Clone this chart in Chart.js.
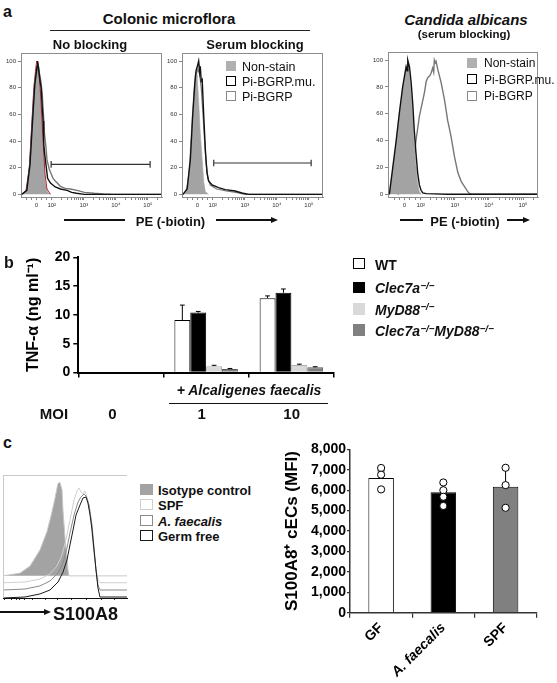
<!DOCTYPE html>
<html><head><meta charset="utf-8"><title>Figure</title>
<script src="https://cdn.jsdelivr.net/npm/chart.js@4.4.1/dist/chart.umd.min.js"></script>
<style>
html,body{margin:0;padding:0;background:#fff;}
body{width:557px;height:683px;position:relative;overflow:hidden;font-family:"Liberation Sans",Arial,Helvetica,sans-serif;color:#111;}
canvas{position:absolute;}
.t{position:absolute;white-space:nowrap;line-height:1;}
.hl{position:absolute;background:#111;}
.sw{position:absolute;box-sizing:border-box;}
.ah{position:absolute;width:0;height:0;border-style:solid;border-color:transparent;}
sup{font-size:70%;line-height:0;vertical-align:0;position:relative;top:-0.45em;}
</style></head><body>
<canvas id="cA1" width="170" height="172" style="left:0;top:46px"></canvas>
<canvas id="cA2" width="170" height="172" style="left:161px;top:46px"></canvas>
<canvas id="cA3" width="180" height="173" style="left:367px;top:45px"></canvas>
<canvas id="cB" width="345" height="150" style="left:0;top:240px"></canvas>
<canvas id="cH" width="135" height="140" style="left:0;top:470px"></canvas>
<canvas id="cC" width="297" height="243" style="left:260px;top:440px"></canvas>
<script>
// ---------- Panel a: flow histograms (x in display units of the biexponential PE axis) ----------
const histTickPos = [0, 0.48, 1.48, 2.48, 3.48];
const histTickLabels = ['0', '10²', '10³', '10⁴', '10⁵'];
const histYTicks = [0, 20, 40, 60, 80, 100];

// Colonic microflora, no blocking
const nbNonStain = [[-0.45,0],[-0.3,2],[-0.2,18],[-0.12,50],[-0.05,80],[0.0,94],[0.02,98],[0.05,96],[0.08,92],[0.12,75],[0.18,53],[0.23,28],[0.28,9],[0.35,1.5],[0.44,0]];
const nbRed = [[-0.45,0],[-0.33,2],[-0.22,20],[-0.15,50],[-0.08,80],[-0.03,92],[0.01,100],[0.05,95],[0.09,88],[0.13,75],[0.17,58],[0.22,35],[0.27,15],[0.33,4],[0.44,0]];
const nbMu = [[-0.45,0],[-0.3,3],[-0.2,22],[-0.12,55],[-0.05,82],[0.02,96],[0.04,100],[0.08,92],[0.12,84],[0.15,80],[0.18,66],[0.21,55],[0.23,38],[0.26,30],[0.3,22],[0.35,12],[0.44,8.5],[0.59,5.5],[0.75,4],[0.96,3],[1.1,1.5],[1.25,0.8],[1.5,0],[3.92,0]];
const nbBGRP = [[-0.45,0],[-0.3,3],[-0.2,24],[-0.12,58],[-0.05,85],[0.02,93],[0.07,95],[0.1,90],[0.14,85],[0.18,76],[0.22,60],[0.25,46],[0.3,35],[0.33,26],[0.4,19],[0.46,15.5],[0.52,12],[0.59,10],[0.75,6],[0.9,4.5],[1.06,4],[1.27,3],[1.5,1.5],[1.8,0.8],[2.1,0.3],[2.4,0],[3.92,0]];
const nbGate = [0.46, 3.55, 22.5];   // from, to, level

// Colonic microflora, serum blocking
const sbNonStain = [[-0.45,0],[-0.37,1],[-0.27,14],[-0.19,46],[-0.11,78],[-0.08,88],[-0.06,92],[-0.03,86],[-0.01,90],[0.04,70],[0.09,46],[0.15,26],[0.2,9],[0.25,2],[0.35,0]];
const sbMu = [[-0.45,0],[-0.32,4],[-0.22,26],[-0.15,58],[-0.08,83],[-0.04,93],[0.0,96],[0.04,100],[0.07,92],[0.09,96],[0.12,85],[0.15,86],[0.2,58],[0.25,33],[0.3,16],[0.35,10],[0.46,7],[0.66,5],[0.87,3.5],[1.18,2.5],[1.39,1],[1.6,0],[3.92,0]];
const sbBGRP = [[-0.45,0],[-0.32,3],[-0.22,24],[-0.15,56],[-0.08,82],[-0.04,90],[0.02,94],[0.07,90],[0.12,80],[0.17,62],[0.22,42],[0.27,24],[0.33,12],[0.4,7],[0.6,4],[0.9,2.5],[1.2,1.5],[1.5,0],[3.92,0]];
const sbGate = [0.51, 3.55, 23.5];

// Candida albicans, serum blocking
const caNonStain = [[-0.45,0],[-0.34,19],[-0.24,39],[-0.15,59],[-0.05,79],[0.05,94],[0.1,98],[0.15,90],[0.2,75],[0.25,58],[0.29,38],[0.34,21],[0.39,8],[0.44,2],[0.5,0]];
const caMu = [[-0.44,0],[-0.34,20],[-0.24,40],[-0.15,60],[-0.05,80],[0.05,95],[0.08,92],[0.1,100],[0.15,95],[0.2,83],[0.25,66],[0.29,48],[0.34,31],[0.39,16],[0.44,7],[0.49,3],[0.54,1],[0.64,0.5],[0.88,0.3],[1.27,0],[3.92,0]];
const caBGRP = [[-0.2,0],[0,3],[0.1,6],[0.2,12],[0.29,28],[0.34,40],[0.44,58],[0.54,70],[0.59,76],[0.64,84],[0.69,87],[0.74,88],[0.78,90],[0.83,94],[0.86,91],[0.88,100],[0.91,98],[0.93,99],[0.98,93],[1.08,83],[1.18,70],[1.27,55],[1.37,43],[1.47,28],[1.57,16],[1.67,9.5],[1.76,6],[1.86,2],[1.91,0.7],[2.0,0],[3.92,0]];

// ---------- Panel b: TNF-alpha ----------
const moiLabels = ['0', '1', '10'];
const tnfWT = [0, 9.1, 12.9];
const tnfWTErr = [0, 2.6, 0.4];
const tnfClec7a = [0, 10.4, 13.85];
const tnfClec7aErr = [0, 0.2, 0.65];
const tnfMyD88 = [0, 1.1, 1.3];
const tnfMyD88Err = [0, 0.15, 0.15];
const tnfDouble = [0, 0.6, 0.9];
const tnfDoubleErr = [0, 0.1, 0.1];

// ---------- Panel c: S100A8 histogram (offset curves, arbitrary units) ----------
const isotypeBaseline = 18;
const cIsotype = [[0,18],[13.7,20.2],[21.8,26],[29.8,39],[35.5,54],[39.5,70],[41.9,81],[44.3,93],[45.9,94],[47.6,88],[48.4,71],[50,49],[51.6,33],[52.4,23],[53.2,18],[100,18]];
const cSPF = [[0,12.4],[17.7,13],[29.8,15.4],[37.9,19.5],[43.5,26],[47.6,35],[50.8,47.2],[54,63.4],[57.3,79.7],[59.7,87],[61.3,89.4],[62.9,86.2],[64.5,84.6],[66.1,87],[68.5,79.7],[71,63.4],[72.6,43.1],[75,22.8],[76.6,14.6],[78.2,12.4],[100,12.4]];
const cAF = [[0,6.5],[17.7,7.3],[29.8,9.8],[37.9,13.8],[44.4,20.3],[48.4,28.5],[51.6,40.7],[54,52.8],[57.3,67.5],[60.5,78],[62.9,82.1],[65.3,84.6],[66.9,82.9],[69.4,75.6],[71.8,59.3],[73.4,40.7],[75,22.8],[76.6,10.6],[78.2,6.5],[100,6.5]];
const cGF = [[0,0],[17.7,0.8],[29.8,3.3],[37.9,6.5],[44.4,13],[48.4,21.1],[51.6,30.9],[54,43.1],[56.5,55.3],[58.9,67.5],[62.1,75.6],[64.5,81.3],[66.9,82.1],[68.5,77.2],[70.2,67.5],[71.8,55.3],[73.4,39],[75,22.8],[76.6,8.1],[78.2,0.8],[100,0.8]];
const cTickPos = [1.6, 7, 11, 13.7, 17.7, 24, 33.9, 44.3, 55.6, 67.7, 79.8, 90.3];

// ---------- Panel c: MFI bars ----------
const mfiGroups = ['GF', 'A. faecalis', 'SPF'];
const mfiMeans = [6600, 5900, 6170];
const mfiErrUpper = [350, 400, 850];
const gfPoints = [7090, 6760, 6040];
const afPoints = [6380, 6000, 5680, 5230];
const spfPoints = [7100, 6250, 5140];

// ================= helpers =================
Chart.defaults.font.family = '"Liberation Sans", Arial, Helvetica, sans-serif';
Chart.defaults.color = '#111';

function txt(html, x, y, css, anchor) {
  const d = document.createElement('div');
  d.className = 't';
  d.innerHTML = html;
  d.style.cssText += css;
  d.style.left = x + 'px';
  d.style.top = y + 'px';
  d.style.transform = anchor === 'l' ? 'translate(0,-50%)' : 'translate(-50%,-50%)';
  document.body.appendChild(d);
}
function hline(x1, x2, y, w, color) {
  const d = document.createElement('div');
  d.className = 'hl';
  d.style.left = x1 + 'px'; d.style.width = (x2 - x1) + 'px';
  d.style.top = (y - w / 2) + 'px'; d.style.height = w + 'px';
  if (color) d.style.background = color;
  document.body.appendChild(d);
}
function arrowHead(tipX, y, len, half) {
  const d = document.createElement('div');
  d.className = 'ah';
  d.style.left = (tipX - len) + 'px';
  d.style.top = (y - half) + 'px';
  d.style.borderWidth = half + 'px 0 ' + half + 'px ' + len + 'px';
  d.style.borderLeftColor = '#111';
  document.body.appendChild(d);
}
function swatch(x, cy, w, h, fill, border, bw) {
  const d = document.createElement('div');
  d.className = 'sw';
  d.style.left = x + 'px'; d.style.top = (cy - h / 2) + 'px';
  d.style.width = w + 'px'; d.style.height = h + 'px';
  d.style.background = fill;
  if (border) d.style.border = bw + 'px solid ' + border;
  document.body.appendChild(d);
}
const pts = arr => arr.map(p => ({x: p[0], y: p[1]}));
function gatePts(g) {
  const [a, b, lv] = g;
  return [{x:a,y:lv-2.5},{x:a,y:lv+2.5},{x:a,y:lv},{x:b,y:lv},{x:b,y:lv+2.5},{x:b,y:lv-2.5}];
}

const framePlugin = {
  id: 'frame',
  afterDraw(chart, args, opts) {
    if (!opts || !opts.sides) return;
    const {left, top, right, bottom} = chart.chartArea;
    const ctx = chart.ctx;
    ctx.save();
    ctx.strokeStyle = opts.color; ctx.lineWidth = 1;
    ctx.beginPath();
    if (opts.sides.includes('top')) { ctx.moveTo(left, top + 0.5); ctx.lineTo(right, top + 0.5); }
    if (opts.sides.includes('right')) { ctx.moveTo(right - 0.5, top); ctx.lineTo(right - 0.5, bottom); }
    if (opts.sides.includes('left')) { ctx.moveTo(left + 0.5, top); ctx.lineTo(left + 0.5, bottom); }
    ctx.stroke();
    ctx.restore();
  }
};

const errorBarPlugin = {
  id: 'errorBars',
  afterDatasetDraw(chart, args, opts) {
    const ds = chart.data.datasets[args.index];
    if (!ds.errorUpper) return;
    const yScale = chart.scales.y;
    const ctx = chart.ctx;
    ctx.save();
    ctx.strokeStyle = '#000'; ctx.lineWidth = 1;
    args.meta.data.forEach((bar, j) => {
      const v = ds.data[j], e = ds.errorUpper[j];
      if (v == null || !e) return;
      const yTop = yScale.getPixelForValue(v + e);
      const half = Math.max(2, bar.width * (opts.cap || 0.15));
      ctx.beginPath();
      ctx.moveTo(bar.x, bar.y); ctx.lineTo(bar.x, yTop);
      ctx.moveTo(bar.x - half, yTop); ctx.lineTo(bar.x + half, yTop);
      ctx.stroke();
    });
    ctx.restore();
  }
};

function histTickValues(min, max) {
  const v = histTickPos.slice().concat([-0.3, -0.15, 0.16, 0.32]);
  for (let d = 0; d < 4; d++) for (let m = 2; m <= 9; m++) v.push(histTickPos[1] + d + Math.log10(m));
  return v.filter(x => x >= min && x <= max).sort((a, b) => a - b);
}

function histChart(id, lines, pads) {
  const tickVals = histTickValues(-0.48, 3.92);
  return new Chart(document.getElementById(id), {
    type: 'line',
    data: { datasets: lines.map(l => ({
      data: l.data,
      borderColor: l.color,
      borderWidth: l.width || 1.2,
      backgroundColor: l.fill || 'transparent',
      fill: l.fill ? 'origin' : false,
      pointRadius: 0, tension: 0
    })) },
    options: {
      responsive: false, animation: false, devicePixelRatio: 1,
      layout: { padding: pads },
      plugins: { legend: {display: false}, tooltip: {enabled: false}, frame: {color: '#8c8c8c', sides: ['top', 'right']} },
      scales: {
        x: {
          type: 'linear', min: -0.48, max: 3.92,
          afterBuildTicks: s => { s.ticks = tickVals.map(v => ({value: v})); },
          afterFit: s => { s.height = 21; },
          ticks: { autoSkip: false, maxRotation: 0, minRotation: 0, font: {size: 6}, color: '#333', padding: 2,
            callback: v => { const i = histTickPos.findIndex(p => Math.abs(p - v) < 1e-6); return i >= 0 ? histTickLabels[i] : ''; } },
          grid: { drawOnChartArea: false, tickLength: 3, color: '#666', lineWidth: 0.8 },
          border: { color: '#8c8c8c', width: 1 }
        },
        y: {
          min: -2, max: 106,
          afterBuildTicks: s => { s.ticks = histYTicks.map(v => ({value: v})); },
          afterFit: s => { s.width = 21; },
          ticks: { font: {size: 6}, color: '#333', padding: 2 },
          grid: { drawOnChartArea: false, tickLength: 3, color: '#666', lineWidth: 0.8 },
          border: { color: '#8c8c8c', width: 1 }
        }
      }
    },
    plugins: [framePlugin]
  });
}

// ================= panel a =================
histChart('cA1', [
  {data: pts(nbMu), color: '#111', width: 1.4},
  {data: pts(nbBGRP), color: '#777', width: 1.4},
  {data: gatePts(nbGate), color: '#333', width: 1.2},
  {data: pts(nbRed), color: '#b02a2a', width: 1},
  {data: pts(nbNonStain), color: '#a8a8a8', width: 0.6, fill: '#a3a3a3'}
], {top: 7, right: 8, left: 0, bottom: 0});

histChart('cA2', [
  {data: pts(sbMu), color: '#111', width: 1.4},
  {data: gatePts(sbGate), color: '#333', width: 1.2},
  {data: pts(sbNonStain), color: '#a8a8a8', width: 0.6, fill: '#a3a3a3'},
  {data: pts(sbBGRP), color: '#777', width: 1.2}
], {top: 7, right: 8, left: 0, bottom: 0});

histChart('cA3', [
  {data: pts(caMu), color: '#111', width: 1.4},
  {data: pts(caNonStain), color: '#a8a8a8', width: 0.6, fill: '#a3a3a3'},
  {data: pts(caBGRP), color: '#777', width: 1.4}
], {top: 7, right: 9, left: 0, bottom: 0});

// ================= panel b =================
new Chart(document.getElementById('cB'), {
  type: 'bar',
  data: { labels: moiLabels, datasets: [
    {label: 'WT', data: tnfWT, errorUpper: tnfWTErr, backgroundColor: '#fff', borderColor: '#000', borderWidth: 1},
    {label: 'Clec7a-/-', data: tnfClec7a, errorUpper: tnfClec7aErr, backgroundColor: '#000', borderColor: '#000', borderWidth: 1},
    {label: 'MyD88-/-', data: tnfMyD88, errorUpper: tnfMyD88Err, backgroundColor: '#d9d9d9', borderColor: '#b0b0b0', borderWidth: 1},
    {label: 'Clec7a-/-MyD88-/-', data: tnfDouble, errorUpper: tnfDoubleErr, backgroundColor: '#7f7f7f', borderColor: '#5a5a5a', borderWidth: 1}
  ]},
  options: {
    responsive: false, animation: false, devicePixelRatio: 1,
    layout: { padding: {top: 17.3, right: 11, left: 0, bottom: 0} },
    datasets: { bar: { categoryPercentage: 0.745, barPercentage: 1 } },
    plugins: { legend: {display: false}, tooltip: {enabled: false}, errorBars: {cap: 0.15} },
    scales: {
      x: { ticks: {display: false}, grid: {offset: true, drawOnChartArea: false, tickLength: 5, color: '#000', lineWidth: 1.5},
           border: {color: '#000', width: 2}, afterFit: s => { s.height = 17.5; } },
      y: { min: 0, max: 20, ticks: {stepSize: 5, font: {size: 14, weight: 'bold'}, color: '#000', padding: 3},
           grid: {drawOnChartArea: false, tickLength: 5, color: '#000', lineWidth: 1.5},
           border: {color: '#000', width: 2},
           title: {display: true, text: 'TNF-α (ng ml⁻¹)', font: {size: 16, weight: 'bold'}, color: '#000', padding: {top: 24.4, bottom: 0}},
           afterFit: s => { s.width = 78.3; } }
    }
  },
  plugins: [errorBarPlugin]
});

// ================= panel c histogram =================
new Chart(document.getElementById('cH'), {
  type: 'line',
  data: { datasets: [
    {data: pts(cGF), borderColor: '#1a1a1a', borderWidth: 1, pointRadius: 0, tension: 0, fill: false},
    {data: pts(cAF), borderColor: '#8a8a8a', borderWidth: 1, pointRadius: 0, tension: 0, fill: false},
    {data: pts(cSPF), borderColor: '#cfcfcf', borderWidth: 1, pointRadius: 0, tension: 0, fill: false},
    {data: pts(cIsotype), borderColor: '#c8c8c8', borderWidth: 1, pointRadius: 0, tension: 0, backgroundColor: '#a3a3a3', fill: {value: isotypeBaseline}}
  ]},
  options: {
    responsive: false, animation: false, devicePixelRatio: 1,
    layout: { padding: {top: 5, left: 3, right: 8, bottom: 0} },
    plugins: { legend: {display: false}, tooltip: {enabled: false}, frame: {color: '#c8c8c8', sides: ['top', 'left']} },
    scales: {
      x: { type: 'linear', min: 0, max: 100,
           afterBuildTicks: s => { s.ticks = cTickPos.map(v => ({value: v})); },
           ticks: {display: false}, grid: {drawOnChartArea: false, tickLength: 2, color: '#333'},
           border: {color: '#111', width: 1}, afterFit: s => { s.height = 12; } },
      y: { display: false, min: 0, max: 100 }
    }
  },
  plugins: [framePlugin]
});

// ================= panel c bars =================
const dots = [].concat(
  gfPoints.map(v => ({x: mfiGroups[0], y: v})),
  afPoints.map(v => ({x: mfiGroups[1], y: v})),
  spfPoints.map(v => ({x: mfiGroups[2], y: v}))
);
new Chart(document.getElementById('cC'), {
  type: 'bar',
  data: { labels: mfiGroups, datasets: [
    {type: 'line', data: dots, showLine: false, pointRadius: 3.6, pointBackgroundColor: '#fff', pointBorderColor: '#000', pointBorderWidth: 1},
    {type: 'bar', data: mfiMeans, errorUpper: mfiErrUpper, backgroundColor: ['#ffffff', '#000000', '#808080'], borderColor: '#000', borderWidth: 1,
     barPercentage: 0.41, categoryPercentage: 1}
  ]},
  options: {
    responsive: false, animation: false, devicePixelRatio: 1,
    layout: { padding: {top: 9.3, right: 20.3, left: 0, bottom: 0} },
    plugins: { legend: {display: false}, tooltip: {enabled: false}, errorBars: {cap: 0.14} },
    scales: {
      x: { grid: {offset: true, drawOnChartArea: false, tickLength: 5, color: '#333', lineWidth: 1.2},
           border: {color: '#333', width: 1.5},
           ticks: {minRotation: 45, maxRotation: 45, color: '#000', padding: 2,
                   font: ctx => ({size: 14, weight: 'bold', style: ctx.index === 1 ? 'italic' : 'normal'})},
           afterFit: s => { s.height = 70.3; } },
      y: { min: 0, max: 8000, ticks: {stepSize: 1000, font: {size: 14, weight: 'bold'}, color: '#000', padding: 1},
           grid: {drawOnChartArea: false, tickLength: 3, color: '#333', lineWidth: 1.2},
           border: {color: '#333', width: 1.5},
           title: {display: true, text: 'S100A8⁺ cECs (MFI)', font: {size: 17, weight: 'bold'}, color: '#000', padding: {top: 22.3, bottom: 0}},
           afterFit: s => { s.width = 90; } }
    }
  },
  plugins: [errorBarPlugin]
});

// ================= text & decorations =================
const B = 'font-weight:bold;';
// panel a
txt('a', 3, 11.5, B + 'font-size:16px;', 'l');
txt('Colonic microflora', 169, 17.5, B + 'font-size:15px;');
hline(50, 310, 30.7, 1.2, '#222');
txt('No blocking', 90, 44.2, B + 'font-size:13px;');
txt('Serum blocking', 255, 44.2, B + 'font-size:13px;');
txt('<i>Candida albicans</i>', 466, 18.5, B + 'font-size:15px;');
txt('(serum blocking)', 464, 35, B + 'font-size:11.5px;');

const legA = [['Non-stain', '#b0b0b0', null], ['Pi-BGRP.mu.', '#fff', '#000'], ['Pi-BGRP', '#fff', '#888']];
[66, 81, 96].forEach((cy, i) => {
  swatch(226, cy, 10, 10, legA[i][1], legA[i][2], 1.5);
  txt(legA[i][0], 242, cy + 0.5, 'font-size:12.5px;', 'l');
});
[62.5, 79, 95.5].forEach((cy, i) => {
  swatch(467, cy, 10, 10, legA[i][1], legA[i][2], 1.5);
  txt(legA[i][0], 484, cy + 0.5, 'font-size:12px;', 'l');
});

hline(64, 125, 220, 1.5);
txt('PE (-biotin)', 170.5, 220.5, B + 'font-size:13px;');
hline(216, 272, 220, 1.5);
arrowHead(278, 220, 7, 3);
hline(400, 423, 220, 1.5);
txt('PE (-biotin)', 465, 220.5, B + 'font-size:13px;');
hline(507, 524, 220, 1.5);
arrowHead(530, 220, 7, 3);

// panel b
txt('b', 4, 263, B + 'font-size:16px;', 'l');
const legB = [['WT', '#fff', '#000'], ['<i>Clec7a</i><sup><i>−/−</i></sup>', '#000', null], ['<i>MyD88</i><sup><i>−/−</i></sup>', '#d9d9d9', null],
  ['<i>Clec7a</i><sup><i>−/−</i></sup><i>MyD88</i><sup><i>−/−</i></sup>', '#808080', null]];
[263.5, 287.4, 308.8, 330.2].forEach((cy, i) => {
  swatch(353, cy, 11.5, 11.5, legB[i][1], legB[i][2], 1.5);
  txt(legB[i][0], 375, cy + 1, B + 'font-size:14px;', 'l');
});
txt('<i>+ Alcaligenes faecalis</i>', 249, 390, B + 'font-size:14px;');
hline(169, 328, 403.3, 1.5);
txt('MOI', 54, 412.5, B + 'font-size:15px;');
txt('0', 112.5, 412.5, B + 'font-size:15px;');
txt('1', 201.7, 412.5, B + 'font-size:15px;');
txt('10', 291.7, 412.5, B + 'font-size:15px;');

// panel c
txt('c', 3, 443, B + 'font-size:16px;', 'l');
const legC = [['Isotype control', '#a3a3a3', null], ['SPF', '#fff', '#cfcfcf'], ['<i>A. faecalis</i>', '#fff', '#8a8a8a'], ['Germ free', '#fff', '#1a1a1a']];
[489, 504.3, 520, 535.7].forEach((cy, i) => {
  swatch(139.5, cy, 13, 11, legC[i][1], legC[i][2], 1.2);
  txt(legC[i][0], 158, cy + 0.5, B + 'font-size:13px;', 'l');
});
hline(0, 45, 612, 1.5);
arrowHead(51, 612, 7, 3);
txt('S100A8', 53, 613.5, B + 'font-size:18px;', 'l');
</script>
</body></html>
